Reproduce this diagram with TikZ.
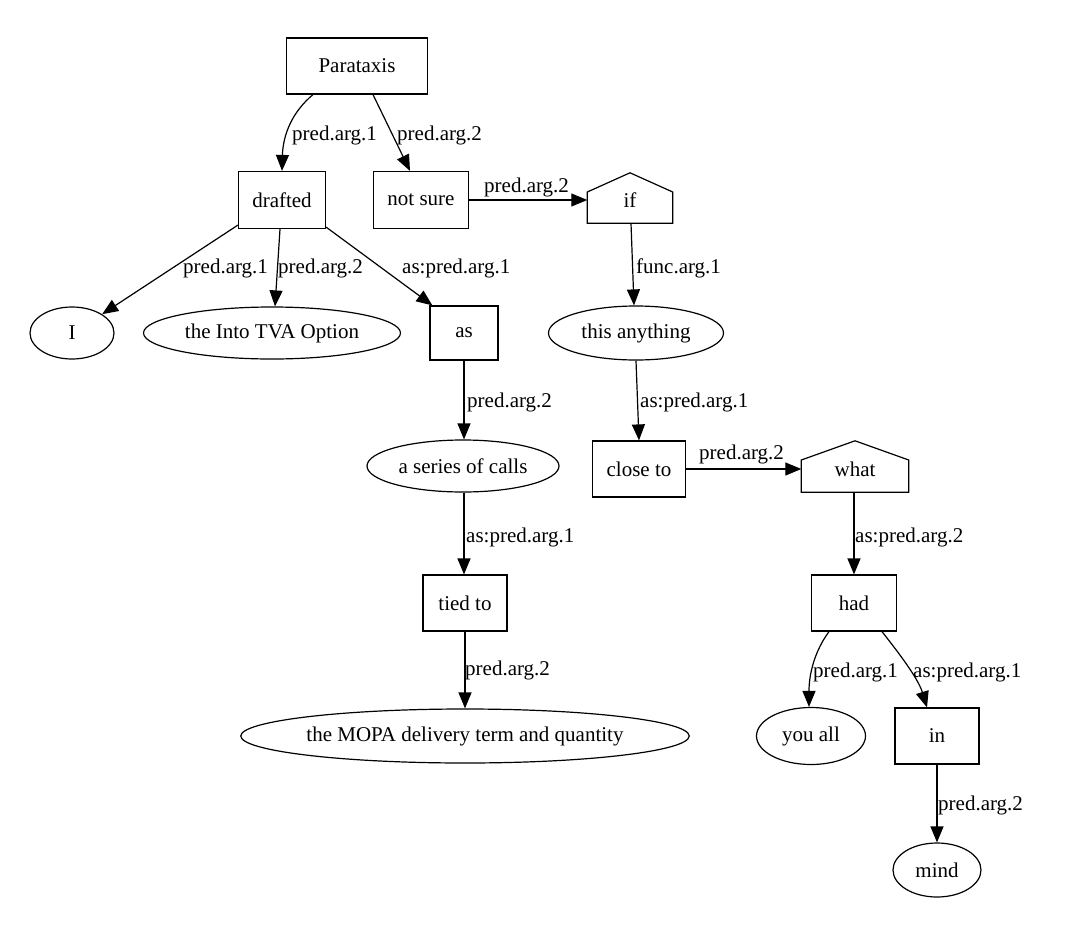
\documentclass[tikz,border=0pt]{standalone}
\usepackage{fontspec}
\setmainfont{Liberation Serif}
\usetikzlibrary{shapes.geometric,arrows.meta,calc}
\begin{document}
\begin{tikzpicture}[x=1pt,y=-1pt,
  every node/.style={font=\fontsize{21}{25}\selectfont},
  box/.style={draw,line width=1.2pt,rectangle,inner sep=0pt,minimum height=56pt},
  ell/.style={draw,line width=1.2pt,ellipse,inner sep=0pt,minimum height=54pt},
  hs/.style={rectangle,inner sep=0pt,minimum height=46pt},
  lbl/.style={anchor=west,inner sep=0pt},
  edge/.style={line width=1.2pt,-{Triangle[length=16pt,width=13pt]}},
  houseline/.style={line width=1.2pt,line join=miter}
]
\useasboundingbox (0,0) rectangle (1080,932);

% nodes
\node[box,minimum width=141pt] (para) at (357,66) {Parataxis};
\node[box,minimum width=87pt,minimum height=57pt] (drafted) at (282,200) {drafted};
\node[box,minimum width=95pt,minimum height=57pt] (notsure) at (421,200) {not sure};
\node[hs,minimum width=85pt] (if) at (630,200) {if};
\node[ell,minimum width=84pt,minimum height=52pt] (I) at (72,333) {I};
\node[ell,minimum width=257pt,minimum height=52pt] (tva) at (272,333) {the Into TVA Option};
\node[box,minimum width=68pt,minimum height=54pt] (as) at (464,333) {as};
\node[ell,minimum width=175pt] (this) at (636,333) {this anything};
\node[ell,minimum width=192pt,minimum height=52pt] (series) at (463,466) {a series of calls};
\node[box,minimum width=93pt] (close) at (639,469) {close to};
\node[hs,minimum width=107pt] (what) at (855,469) {what};
\node[box,minimum width=84pt] (tied) at (465,603) {tied to};
\node[box,minimum width=85pt] (had) at (854,603) {had};
\node[ell,minimum width=448pt] (mopa) at (465,736) {the MOPA delivery term and quantity};
\node[ell,minimum width=109pt,minimum height=57pt] (you) at (811,736) {you all};
\node[box,minimum width=84pt] (in) at (937,736) {in};
\node[ell,minimum width=88pt] (mind) at (937,870) {mind};

% house outlines
\draw[houseline] (if.south west) -- (if.south east) -- ($(if.east)+(0,-8)$) -- ($(if.north)+(0,-4)$) -- ($(if.west)+(0,-8)$) -- cycle;
\draw[houseline] (what.south west) -- (what.south east) -- ($(what.east)+(0,-9)$) -- ($(what.north)+(0,-5)$) -- ($(what.west)+(0,-9)$) -- cycle;

% edges
\draw[edge] ($(para.south)+(-44,0)$) .. controls (292,112) and (283,135) .. (drafted.north);
\draw[edge] ($(para.south)+(16,0)$) -- ($(notsure.north)+(-11,0)$);
\draw[edge] (notsure.east) -- (if.west);
\draw[edge] ($(drafted.south west)+(0,-4)$) -- (I.north east);
\draw[edge] ($(drafted.south)+(-2,0)$) -- ($(tva.north)+(3,0)$);
\draw[edge] ($(drafted.south east)+(0,-2)$) -- ($(as.north west)+(3,0)$);
\draw[edge] ($(if.south)+(1,0)$) -- ($(this.north)+(-2,0)$);
\draw[edge] (as.south) -- ($(series.north)+(1,0)$);
\draw[edge] (this.south) -- (close.north);
\draw[edge] (close.east) -- (what.west);
\draw[edge] ($(series.south)+(1,0)$) -- ($(tied.north)+(-1,0)$);
\draw[edge] ($(what.south)+(-1,0)$) -- (had.north);
\draw[edge] (tied.south) -- (mopa.north);
\draw[edge] ($(had.south)+(-25,0)$) .. controls (814,652) and (809,675) .. ($(you.north)+(-2,0)$);
\draw[edge] ($(had.south)+(28,0)$) .. controls (898,652) and (918,678) .. ($(in.north)+(-10,0)$);
\draw[edge] (in.south) -- (mind.north);

% labels
\node[lbl] (l1) at (292,135) {pred.arg.1};
\node[lbl] (l2) at (397,135) {pred.arg.2};
\node[lbl] (l3) at (484,187) {pred.arg.2};
\node[lbl] (l4) at (183,268) {pred.arg.1};
\node[lbl] (l5) at (278,268) {pred.arg.2};
\node[lbl] (l6) at (402,268) {as:pred.arg.1};
\node[lbl] (l7) at (636,268) {func.arg.1};
\node[lbl] (l8) at (467,402) {pred.arg.2};
\node[lbl] (l9) at (640,402) {as:pred.arg.1};
\node[lbl] (l10) at (699,454) {pred.arg.2};
\node[lbl] (l11) at (466,537) {as:pred.arg.1};
\node[lbl] (l12) at (855,537) {as:pred.arg.2};
\node[lbl] (l13) at (465,670) {pred.arg.2};
\node[lbl] (l14) at (813,672) {pred.arg.1};
\node[lbl] (l15) at (913,672) {as:pred.arg.1};
\node[lbl] (l16) at (938,805) {pred.arg.2};
\end{tikzpicture}
\end{document}
